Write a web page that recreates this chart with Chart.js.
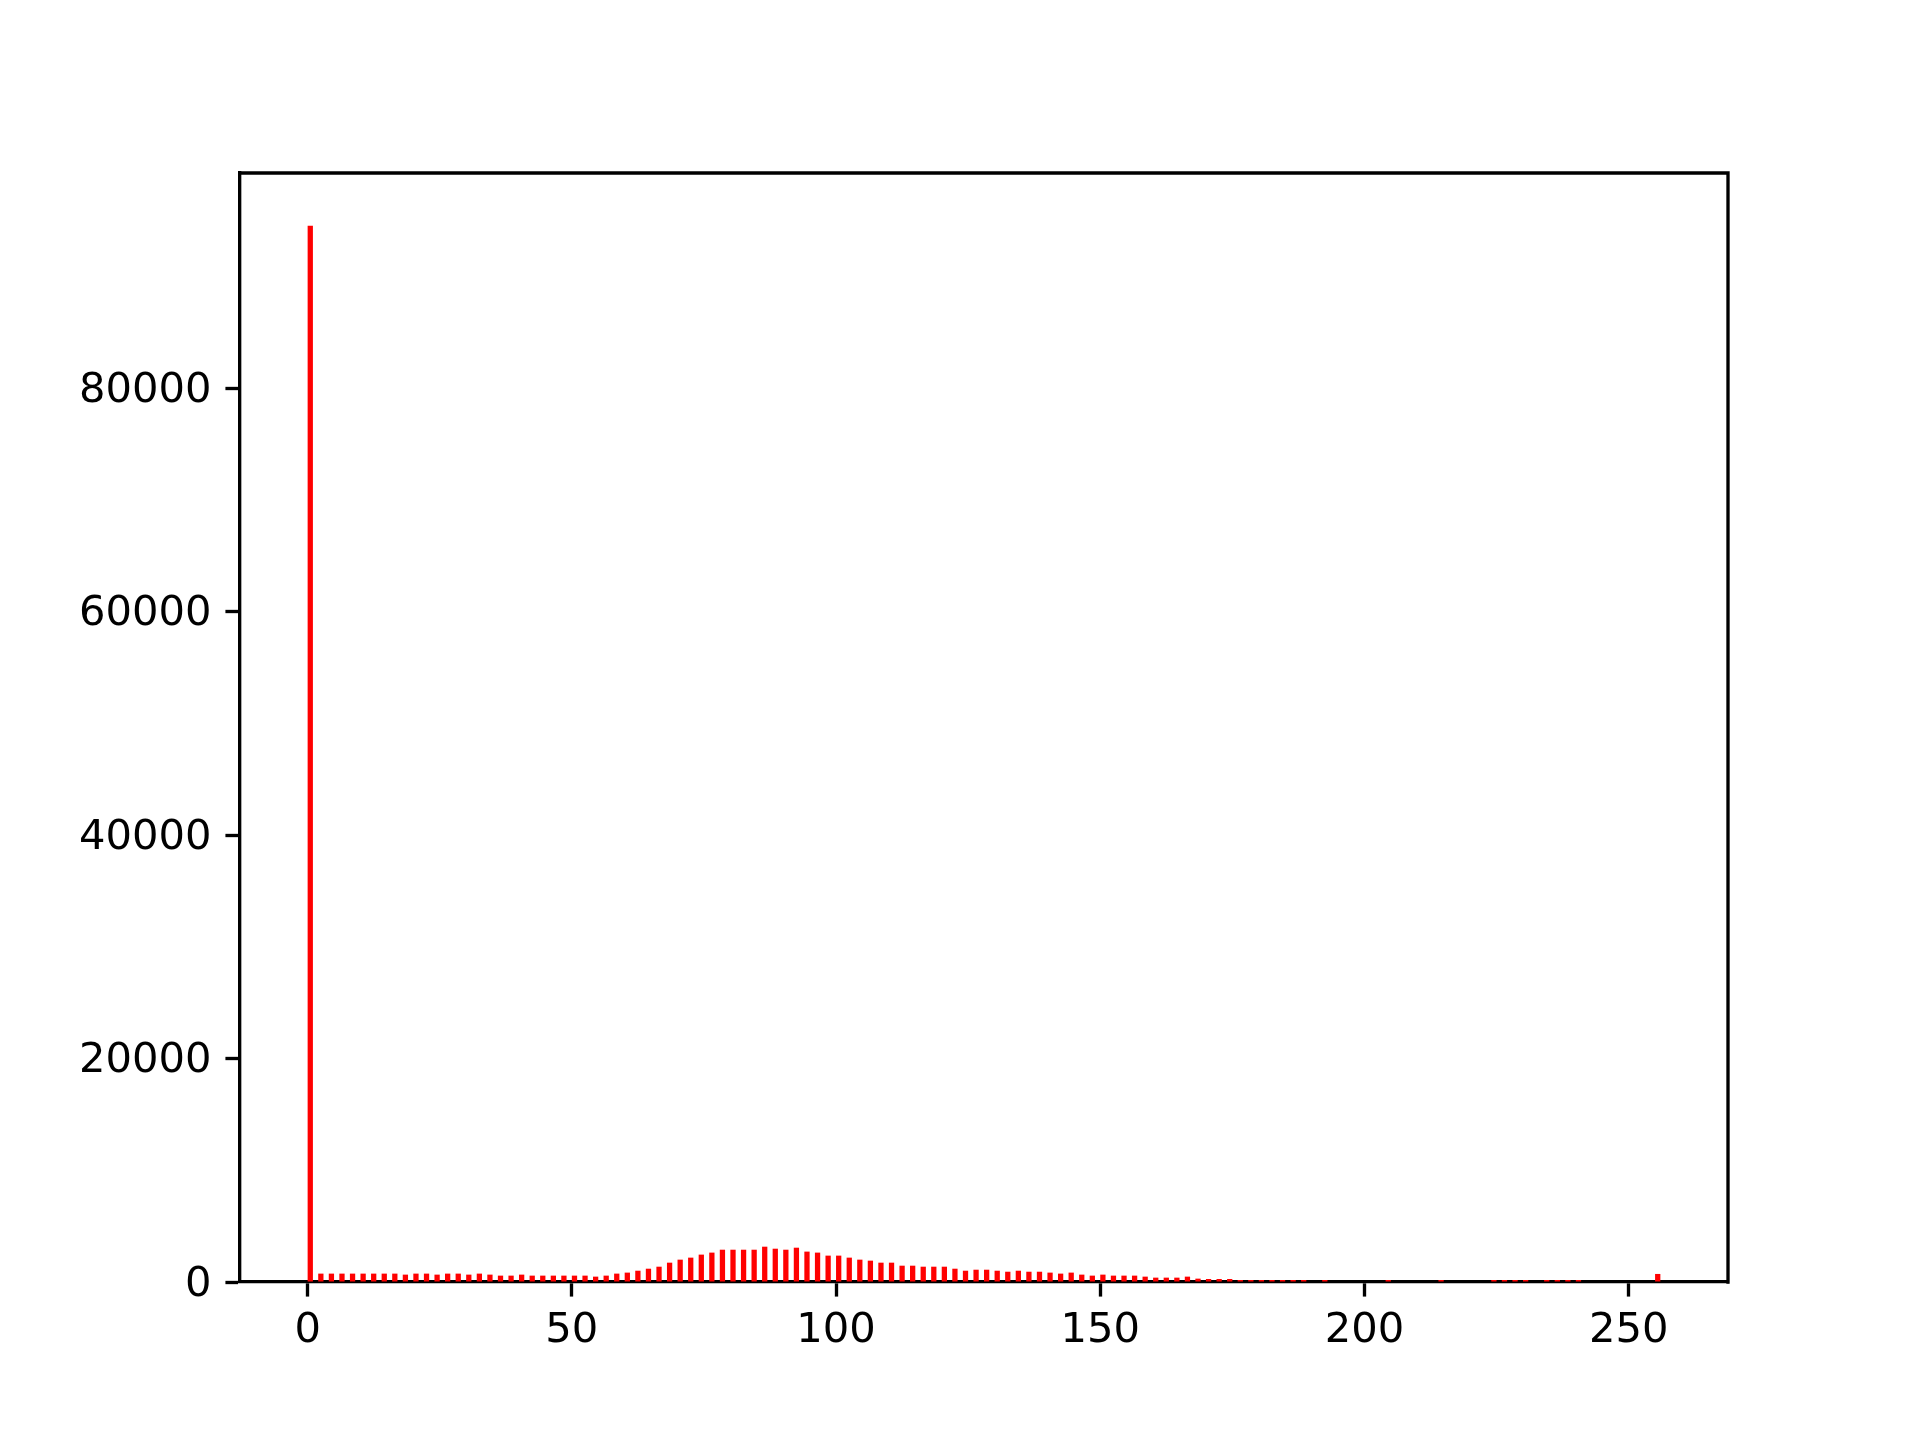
<!DOCTYPE html>
<html>
<head>
<meta charset="utf-8">
<script src="https://cdn.jsdelivr.net/npm/chart.js@4.4.0/dist/chart.umd.min.js"></script>
<style>
  body { margin: 0; background: #ffffff; }
  #wrap { width: 1920px; height: 1440px; }
</style>
</head>
<body>
<div id="wrap"><canvas id="chHist" width="1920" height="1440"></canvas></div>
<script>
// histogram bins (left edge of each unit-wide bin) and pixel counts
var binStart = [0, 2, 4, 6, 8, 10, 12, 14, 16, 18, 20, 22, 24, 26, 28, 30, 32, 34, 36, 38,
  40, 42, 44, 46, 48, 50, 52, 54, 56, 58, 60, 62, 64, 66, 68, 70, 72, 74, 76, 78,
  80, 82, 84, 86, 88, 90, 92, 94, 96, 98, 100, 102, 104, 106, 108, 110, 112, 114, 116, 118,
  120, 122, 124, 126, 128, 130, 132, 134, 136, 138, 140, 142, 144, 146, 148, 150, 152, 154, 156, 158,
  160, 162, 164, 166, 168, 170, 172, 174, 176, 178, 180, 182, 184, 186, 188, 192,
  204, 214, 224, 226, 228, 230, 234, 236, 238, 240, 255];
var counts = [94520, 750, 750, 750, 750, 750, 750, 750, 750, 660, 750, 750, 660, 750, 750, 660, 750, 660, 570, 570,
  660, 570, 570, 570, 570, 570, 570, 480, 570, 750, 840, 1010, 1190, 1370, 1730, 2000, 2180, 2450, 2630, 2890,
  2890, 2890, 2890, 3160, 2980, 2890, 3070, 2720, 2630, 2360, 2360, 2180, 2000, 1910, 1730, 1730, 1460, 1460, 1370, 1370,
  1370, 1190, 1010, 1100, 1100, 1010, 920, 1010, 920, 920, 840, 750, 840, 660, 570, 660, 570, 570, 570, 480,
  390, 390, 390, 480, 300, 270, 270, 270, 180, 180, 180, 180, 180, 180, 180, 180,
  180, 180, 180, 180, 180, 180, 180, 180, 180, 180, 720];
var xTicks = [0, 50, 100, 150, 200, 250];
var yTicks = [0, 20000, 40000, 60000, 80000];
var histRange = [0, 256];

var lw = 0.8 * 300 / 72;   // 0.8pt at 300 dpi
var tickLen = 3.5 * 300 / 72;
var tickFont = { family: 'DejaVu Sans', size: 10 * 300 / 72 };

var histData = binStart.map(function (b, i) { return { x: b + 0.5, y: counts[i] }; });
var xPad = (histRange[1] - histRange[0]) * 0.05;

// top and right spines
var frame = {
  id: 'frame',
  afterDraw: function (chart) {
    var a = chart.chartArea, ctx = chart.ctx;
    ctx.save();
    ctx.strokeStyle = '#000000';
    ctx.lineWidth = lw;
    ctx.lineCap = 'square';
    ctx.beginPath();
    ctx.moveTo(a.left, a.top);
    ctx.lineTo(a.right, a.top);
    ctx.lineTo(a.right, a.bottom);
    ctx.stroke();
    ctx.restore();
  }
};

var chHist = document.getElementById('chHist');
new Chart(chHist, {
  type: 'bar',
  data: {
    datasets: [{
      data: histData,
      backgroundColor: '#ff0000',
      borderWidth: 0,
      barPercentage: 0.5,
      categoryPercentage: 1
    }]
  },
  options: {
    responsive: false,
    animation: false,
    layout: { padding: { left: 0, top: 173, right: 192, bottom: 0 } },
    plugins: { legend: { display: false }, tooltip: { enabled: false } },
    scales: {
      x: {
        type: 'linear',
        min: histRange[0] - xPad,
        max: histRange[1] + xPad,
        offset: false,
        afterFit: function (s) { s.height = 158; },
        afterBuildTicks: function (s) { s.ticks = xTicks.map(function (v) { return { value: v }; }); },
        grid: { display: true, drawOnChartArea: false, offset: false, tickLength: tickLen, tickWidth: lw, tickColor: '#000000' },
        border: { display: true, color: '#000000', width: lw },
        ticks: { color: '#000000', font: tickFont, padding: 10, maxRotation: 0,
          callback: function (v) { return String(v); } }
      },
      y: {
        min: 0,
        max: Math.max.apply(null, counts) * 1.05,
        afterFit: function (s) { s.width = 240; },
        afterBuildTicks: function (s) { s.ticks = yTicks.map(function (v) { return { value: v }; }); },
        grid: { display: true, drawOnChartArea: false, tickLength: tickLen, tickWidth: lw, tickColor: '#000000' },
        border: { display: true, color: '#000000', width: lw },
        ticks: { color: '#000000', font: tickFont, padding: 14, labelOffset: 3,
          callback: function (v) { return String(v); } }
      }
    }
  },
  plugins: [frame]
});
</script>
</body>
</html>
